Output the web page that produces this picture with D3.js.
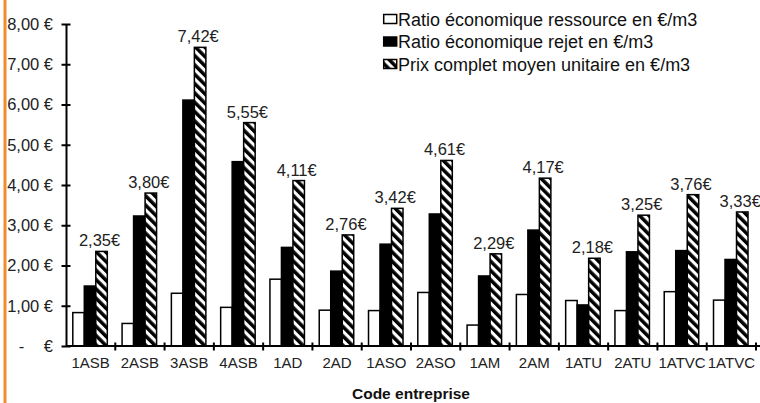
<!DOCTYPE html>
<html>
<head>
<meta charset="utf-8">
<script src="https://cdn.jsdelivr.net/npm/d3@7/dist/d3.min.js"></script>
<style>
  html, body { margin: 0; padding: 0; background: #fff; }
  svg { display: block; font-family: "Liberation Sans", Arial, sans-serif; }
</style>
</head>
<body>
<svg id="chart" width="760" height="403"></svg>
<script>
// Company codes along the x axis
const categories = ["1ASB", "2ASB", "3ASB", "4ASB", "1AD", "2AD", "1ASO", "2ASO",
                    "1AM", "2AM", "1ATU", "2ATU", "1ATVC", "1ATVC"];

// Series values in €/m3
const ressource = [0.83, 0.56, 1.31, 0.96, 1.66, 0.89, 0.88, 1.33, 0.52, 1.28, 1.13, 0.88, 1.35, 1.14];
const rejet     = [1.49, 3.23, 6.11, 4.58, 2.45, 1.86, 2.53, 3.28, 1.74, 2.88, 1.02, 2.34, 2.37, 2.15];
const prix      = [2.35, 3.80, 7.42, 5.55, 4.11, 2.76, 3.42, 4.61, 2.29, 4.17, 2.18, 3.25, 3.76, 3.33];

const seriesNames = ["Ratio économique ressource en €/m3",
                     "Ratio économique rejet en €/m3",
                     "Prix complet moyen unitaire en €/m3"];

const yTicks = [0, 1, 2, 3, 4, 5, 6, 7, 8];
const axisTitle = "Code entreprise";

const fr = d3.formatLocale({ decimal: ",", thousands: " ", grouping: [3], currency: ["", "€"] });
const fmt2 = fr.format(".2f");

const svg = d3.select("#chart");

// orange rule on the left edge
svg.append("rect").attr("x", 3.5).attr("y", 0).attr("width", 3).attr("height", 403)
  .attr("fill", "#f28a2e");

const x = d3.scaleBand().domain(d3.range(categories.length)).range([66, 756]);
const y = d3.scaleLinear().domain([0, 8]).range([346, 24]);
const inner = d3.scaleBand().domain([0, 1, 2]).range([6.8, 6.8 + 34.5]);

// diagonal hatch
const defs = svg.append("defs");
defs.append("pattern")
  .attr("id", "hatch")
  .attr("patternUnits", "userSpaceOnUse")
  .attr("width", 6.6).attr("height", 6.6)
  .attr("patternTransform", "rotate(-45)")
  .call(p => {
    p.append("rect").attr("width", 6.6).attr("height", 6.6).attr("fill", "#fff");
    p.append("rect").attr("width", 3.5).attr("height", 6.6).attr("fill", "#000");
  });

const fills = ["#fff", "#000", "url(#hatch)"];
const series = [ressource, rejet, prix];

// bars
const groups = svg.append("g").selectAll("g")
  .data(categories.map((c, i) => i))
  .join("g")
  .attr("transform", i => `translate(${x(i)},0)`);

groups.selectAll("rect")
  .data(i => series.map((s, k) => ({ k, v: s[i] })))
  .join("rect")
  .attr("x", d => inner(d.k))
  .attr("width", inner.bandwidth())
  .attr("y", d => y(d.v))
  .attr("height", d => y(0) - y(d.v))
  .attr("fill", d => fills[d.k])
  .attr("stroke", "#000")
  .attr("stroke-width", 1.5);

// value labels over the full price bars
groups.append("text")
  .attr("x", inner(2) + inner.bandwidth() / 2 - 2)
  .attr("y", i => y(prix[i]) - 5)
  .attr("text-anchor", "middle")
  .attr("font-size", 16.5)
  .attr("fill", "#222")
  .text(i => fmt2(prix[i]) + "€");

// y axis
const yAxis = svg.append("g")
  .attr("transform", `translate(${x.range()[0]},0)`)
  .call(d3.axisLeft(y).tickValues(yTicks).tickSizeInner(4).tickSizeOuter(0)
    .tickFormat(d => d === 0 ? "" : fmt2(d) + " €"));
yAxis.select(".domain").attr("stroke", "#000").attr("stroke-width", 2);
yAxis.selectAll(".tick line").attr("x1", -4.5).attr("x2", 4.5)
  .attr("stroke", "#000").attr("stroke-width", 2);
yAxis.selectAll(".tick text")
  .attr("x", -13).attr("font-size", 16.5).attr("fill", "#222")
  .attr("font-family", "Liberation Sans, Arial, sans-serif");
// accounting-style zero label
const zeroTick = yAxis.selectAll(".tick").filter(d => d === 0);
zeroTick.append("text").attr("x", -44.5).attr("dy", "0.32em")
  .attr("text-anchor", "middle").attr("font-size", 16.5).attr("fill", "#222").text("-");
zeroTick.append("text").attr("x", -13).attr("dy", "0.32em")
  .attr("text-anchor", "end").attr("font-size", 16.5).attr("fill", "#222").text("€");

// x axis
const xAxis = svg.append("g")
  .attr("transform", `translate(0,${y(0)})`)
  .call(d3.axisBottom(x).tickSize(0).tickFormat(i => categories[i]));
xAxis.select(".domain").remove();
xAxis.append("line")
  .attr("x1", x.range()[0]).attr("x2", 760)
  .attr("stroke", "#000").attr("stroke-width", 2);
xAxis.selectAll(".tick text")
  .attr("dy", "1.05em").attr("y", 6).attr("font-size", 15).attr("fill", "#222")
  .attr("font-family", "Liberation Sans, Arial, sans-serif");
xAxis.selectAll(".bound")
  .data(d3.range(1, categories.length + 1))
  .join("line")
  .attr("class", "bound")
  .attr("x1", i => x.range()[0] + i * x.step())
  .attr("x2", i => x.range()[0] + i * x.step())
  .attr("y1", -3.5).attr("y2", 4.5)
  .attr("stroke", "#000").attr("stroke-width", 2);

// axis title
svg.append("text")
  .attr("x", 411).attr("y", 399)
  .attr("text-anchor", "middle")
  .attr("font-size", 15.5).attr("font-weight", "bold").attr("fill", "#111")
  .text(axisTitle);

// legend
const legend = svg.append("g").attr("transform", "translate(383,0)");
const rowsY = [19.5, 42, 64.5];
seriesNames.forEach((name, k) => {
  legend.append("rect")
    .attr("x", 0.7).attr("y", rowsY[k] - 5)
    .attr("width", 13).attr("height", 9)
    .attr("fill", fills[k]).attr("stroke", "#000").attr("stroke-width", 1.5);
  legend.append("text")
    .attr("x", 15).attr("y", rowsY[k]).attr("dy", "0.35em")
    .attr("font-size", 18).attr("fill", "#111")
    .text(name);
});
</script>
</body>
</html>
